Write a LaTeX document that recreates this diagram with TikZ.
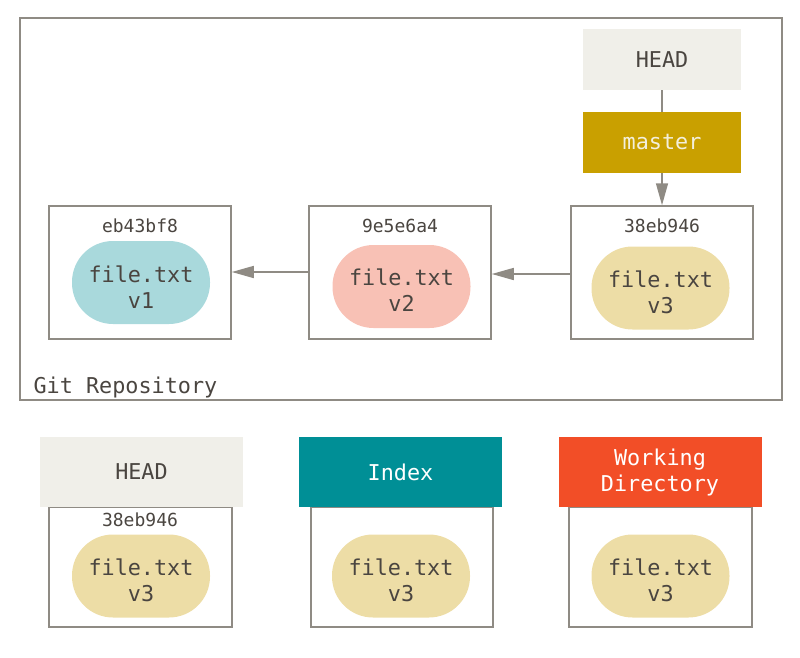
\documentclass[tikz,border=0pt]{standalone}
\usepackage{fontspec}
\setmainfont{DejaVu Sans Mono}
\usetikzlibrary{arrows.meta}
\definecolor{frame}{HTML}{8F8B84}
\definecolor{txt}{HTML}{4A4540}
\definecolor{headfill}{HTML}{F0EFE9}
\definecolor{masterfill}{HTML}{C9A000}
\definecolor{mastertxt}{HTML}{F3EFDC}
\definecolor{indexfill}{HTML}{008F96}
\definecolor{wdfill}{HTML}{F24E27}
\definecolor{vone}{HTML}{A9D9DC}
\definecolor{vtwo}{HTML}{F8C1B5}
\definecolor{vthree}{HTML}{EDDDA6}
\tikzset{
  bigfont/.style={font=\fontsize{21.8}{26}\selectfont},
  hashfont/.style={font=\fontsize{18}{22}\selectfont},
  commitbox/.style={draw=frame, line width=1.5pt, minimum width=182pt, minimum height=133pt, inner sep=0pt},
  areabox/.style={draw=frame, line width=1.5pt, minimum width=183pt, minimum height=120pt, inner sep=0pt},
  blob/.style={rounded corners=41pt, minimum width=138pt, minimum height=83pt, inner sep=0pt},
  blobtext/.style={inner sep=0pt, align=center, text=txt, bigfont},
  label/.style={minimum width=158pt, minimum height=61pt, inner sep=0pt, bigfont, align=center},
  arealabel/.style={minimum width=203pt, minimum height=70pt, inner sep=0pt, bigfont, align=center},
  hash/.style={text=txt, hashfont, anchor=base},
  conn/.style={draw=frame, line width=1.5pt},
  arr/.style={conn, -{Triangle[length=22pt, width=12pt]}}
}
\begin{document}
\begin{tikzpicture}[x=1pt, y=-1pt]
\useasboundingbox (0,0) rectangle (800,658);
% repository frame
\node[draw=frame, line width=1.5pt, minimum width=762pt, minimum height=382pt, inner sep=0pt] (repo) at (401,209) {};
\node[anchor=base west, text=txt, bigfont] (repolabel) at (30,393) {Git Repository};
% commits
\node[commitbox] (c1) at (140,272.5) {};
\node[commitbox] (c2) at (400,272.5) {};
\node[commitbox] (c3) at (662,272.5) {};
\node[hash] (h1) at (140,232) {eb43bf8};
\node[hash] (h2) at (400,232) {9e5e6a4};
\node[hash] (h3) at (662,232) {38eb946};
\node[blob, fill=vone] (b1) at (141,282.5) {};
\node[blob, fill=vtwo] (b2) at (401.5,286.5) {};
\node[blob, fill=vthree] (b3) at (660.5,288) {};
\node[blobtext] (t1) at ([yshift=-5pt]b1.center) {file.txt\\v1};
\node[blobtext] (t2) at ([yshift=-4pt]b2.center) {file.txt\\v2};
\node[blobtext] (t3) at ([yshift=-4pt]b3.center) {file.txt\\v3};
% refs
\node[label, fill=headfill, text=txt] (head) at (662,59.5) {HEAD};
\node[label, fill=masterfill, text=mastertxt] (master) at (662,142.5) {master};
\draw[conn] (head.south) -- (master.north);
\draw[arr] (master.south) -- (master.south |- c3.north);
\draw[arr] (c2.west |- 0,272) -- (c1.east |- 0,272);
\draw[arr] (c3.west |- 0,274) -- (c2.east |- 0,274);
% bottom areas
\node[areabox] (a1) at (140.5,567) {};
\node[areabox, minimum width=182pt] (a2) at (402,567) {};
\node[areabox] (a3) at (660.5,567) {};
\node[arealabel, fill=headfill, text=txt] (l1) at (141.5,472) {HEAD};
\node[arealabel, fill=indexfill, text=white] (l2) at (400.5,472) {Index};
\node[arealabel, fill=wdfill, text=white] (l3) at (660,472) {Working\\Directory};
\node[hash] (h4) at (140,526) {38eb946};
\node[blob, fill=vthree] (b4) at (141,576) {};
\node[blob, fill=vthree] (b5) at (401,576) {};
\node[blob, fill=vthree] (b6) at (660.5,576) {};
\node[blobtext] (t4) at ([yshift=-4pt]b4.center) {file.txt\\v3};
\node[blobtext] (t5) at ([yshift=-4pt]b5.center) {file.txt\\v3};
\node[blobtext] (t6) at ([yshift=-4pt]b6.center) {file.txt\\v3};
\end{tikzpicture}
\end{document}
